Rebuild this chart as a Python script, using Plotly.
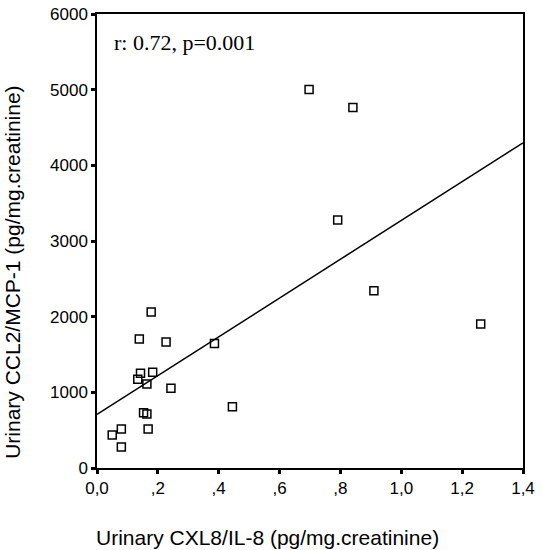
import plotly.graph_objects as go

# Data
il8 = [0.178, 0.139, 0.227, 0.386, 0.143, 0.183, 0.134, 0.164, 0.243, 0.445,
       0.153, 0.164, 0.050, 0.080, 0.168, 0.080, 0.697, 0.841, 0.791, 0.910, 1.261]
mcp1 = [2061, 1704, 1664, 1647, 1251, 1264, 1172, 1110, 1053, 810,
        731, 713, 436, 515, 515, 277, 5003, 4765, 3276, 2342, 1902]

fit_intercept = 709
fit_slope = 2563
line_x = [0.0, 1.4]
line_y = [fit_intercept + fit_slope * v for v in line_x]

x_ticks = [0.0, 0.2, 0.4, 0.6, 0.8, 1.0, 1.2, 1.4]
x_ticktext = ["0,0", ",2", ",4", ",6", ",8", "1,0", "1,2", "1,4"]
y_ticks = [0, 1000, 2000, 3000, 4000, 5000, 6000]

fig = go.Figure()
fig.add_trace(go.Scatter(x=line_x, y=line_y, mode="lines",
                         line=dict(color="black", width=1.5), showlegend=False))
fig.add_trace(go.Scatter(x=il8, y=mcp1, mode="markers",
                         marker=dict(symbol="square-open", size=8,
                                     color="black", line=dict(width=1.5)),
                         showlegend=False))

sans = "Liberation Sans, Arial"
axis_font = dict(family=sans, size=17, color="black")
fig.update_layout(
    width=542, height=550,
    margin=dict(l=97, r=19, t=14, b=82),
    paper_bgcolor="white", plot_bgcolor="white",
    font=dict(family=sans, color="black"),
    xaxis=dict(range=[0, 1.4], tickvals=x_ticks, ticktext=x_ticktext,
               showgrid=False, zeroline=False, showline=True, mirror=True,
               linecolor="black", linewidth=1.5, ticks="outside", ticklen=4,
               tickwidth=3, tickcolor="black", tickfont=axis_font,
               automargin=False),
    yaxis=dict(range=[0, 6000], tickvals=y_ticks,
               showgrid=False, zeroline=False, showline=True, mirror=True,
               linecolor="black", linewidth=1.5, ticks="outside", ticklen=4,
               tickwidth=3, tickcolor="black", tickfont=axis_font,
               automargin=False),
    annotations=[
        dict(x=0.035, y=0.938, xref="paper", yref="paper",
             xanchor="left", yanchor="middle", showarrow=False,
             text="r: 0.72, p=0.001",
             font=dict(family="Liberation Serif, Times New Roman",
                       size=22, color="black")),
        dict(x=0.401, y=-0.152, xref="paper", yref="paper",
             xanchor="center", yanchor="middle", showarrow=False,
             text="Urinary CXL8/IL-8 (pg/mg.creatinine)",
             font=dict(family=sans, size=21, color="black")),
        dict(x=-0.197, y=0.43, xref="paper", yref="paper",
             xanchor="center", yanchor="middle", showarrow=False,
             textangle=-90,
             text="Urinary CCL2/MCP-1 (pg/mg.creatinine)",
             font=dict(family=sans, size=21, color="black")),
    ],
)

fig.write_html("out.html")
